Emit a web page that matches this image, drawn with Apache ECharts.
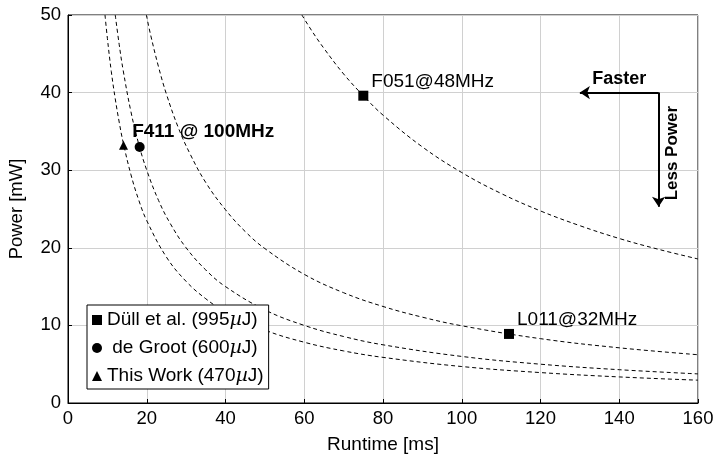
<!DOCTYPE html>
<html>
<head>
<meta charset="utf-8">
<script src="https://cdn.jsdelivr.net/npm/echarts@6/dist/echarts.min.js"></script>
<style>
  html, body { margin: 0; padding: 0; background: #fff; }
  #chart { width: 717px; height: 455px; }
</style>
</head>
<body>
<div id="chart"></div>
<script>
// iso-energy curves [runtime ms, power mW]
const curve470 = [[9.4,50],[10,47],[11,42.7],[12,39.2],[13,36.2],[14,33.6],[16,29.4],[18,26.1],[20,23.5],[25,18.8],[30,15.67],[35,13.43],[40,11.75],[50,9.4],[60,7.83],[70,6.71],[80,5.88],[100,4.7],[120,3.92],[140,3.36],[160,2.94]];
const curve600 = [[12,50],[13,46.2],[14,42.9],[16,37.5],[18,33.3],[20,30],[23,26.1],[26,23.1],[30,20],[35,17.14],[40,15],[50,12],[60,10],[70,8.57],[80,7.5],[100,6],[120,5],[140,4.29],[160,3.75]];
const curve995 = [[19.9,50],[21,47.4],[23,43.3],[25,39.8],[28,35.5],[31,32.1],[35,28.4],[40,24.9],[45,22.1],[50,19.9],[60,16.58],[70,14.21],[80,12.44],[90,11.06],[100,9.95],[120,8.29],[140,7.11],[160,6.22]];
const curve2970 = [[59.4,50],[62,47.9],[65,45.7],[70,42.4],[75,39.6],[80,37.1],[90,33],[100,29.7],[110,27],[120,24.75],[130,22.85],[140,21.2],[150,19.8],[160,18.56]];

// measured designs
const dullPoints = [[75,39.6],[112,8.9]];
const dullLabels = ['F051@48MHz','L011@32MHz'];
const grootPoints = [[18.2,33.0]];
const grootLabel = 'F411 @ 100MHz';
const thisWorkPoints = [[14.1,33.2]];

const legendNames = ['Düll et al. (995µJ)', ' de Groot (600µJ)', 'This Work (470µJ)'];

const xTicks = { min: 0, max: 160, interval: 20 };
const yTicks = { min: 0, max: 50, interval: 10 };

// arrow annotation
const fasterArrow = [[150,40],[130,40]];
const lessPowerArrow = [[150,40],[150,25.3]];
const lessPowerText = [153.4,32.2];

const FONT = '"Liberation Sans", Arial, Helvetica, sans-serif';
const chart = echarts.init(document.getElementById('chart'));

function curveSeries(data) {
  return {
    type: 'line', data: data, smooth: 0.4,
    showSymbol: false, silent: true, clip: true,
    lineStyle: { color: '#000', width: 1, type: [4, 3] }, z: 2
  };
}

chart.setOption({
  animation: false,
  textStyle: { fontFamily: FONT },
  grid: { left: 68, right: 19, top: 15, bottom: 52, outerBoundsMode: 'none', containLabel: false,
    show: true, borderColor: '#000', borderWidth: 1 },
  legend: {
    orient: 'vertical', left: 87, top: 305,
    data: [
      { name: legendNames[0], icon: 'rect' },
      { name: legendNames[1], icon: 'circle' },
      { name: legendNames[2], icon: 'triangle' }
    ],
    itemWidth: 10, itemHeight: 10, itemGap: 8,
    padding: [5, 5, 3, 5],
    borderColor: '#000', borderWidth: 1, backgroundColor: '#fff',
    textStyle: { fontSize: 19, color: '#000', fontFamily: FONT, lineHeight: 20,
      rich: { i: { fontStyle: 'italic', fontSize: 19, lineHeight: 20, fontFamily: '"DejaVu Serif", serif', color: '#000' } } },
    formatter: function (name) { return name.replace('µ', '{i|µ}'); }
  },
  xAxis: {
    type: 'value', min: xTicks.min, max: xTicks.max, interval: xTicks.interval,
    name: 'Runtime [ms]', nameLocation: 'middle', nameGap: 32,
    nameTextStyle: { fontSize: 19, color: '#000' },
    axisLine: { lineStyle: { color: '#000' } },
    axisTick: { inside: true, length: 4, lineStyle: { color: '#000' } },
    axisLabel: { fontSize: 18.5, color: '#000', margin: 6 },
    splitLine: { show: true, lineStyle: { color: '#d0d0d0' } }
  },
  yAxis: {
    type: 'value', min: yTicks.min, max: yTicks.max, interval: yTicks.interval,
    name: 'Power [mW]', nameLocation: 'middle', nameGap: 42,
    nameTextStyle: { fontSize: 18.5, color: '#000' },
    axisLine: { show: true, lineStyle: { color: '#000' } },
    axisTick: { show: true, inside: true, length: 4, lineStyle: { color: '#000' } },
    axisLabel: { fontSize: 18.5, color: '#000', margin: 7 },
    splitLine: { show: true, lineStyle: { color: '#d0d0d0' } }
  },
  series: [
    curveSeries(curve470),
    curveSeries(curve600),
    curveSeries(curve995),
    curveSeries(curve2970),
    {
      name: legendNames[0], type: 'scatter', symbol: 'rect', symbolSize: 10,
      itemStyle: { color: '#000', opacity: 1 }, z: 5,
      data: dullPoints.map((p, i) => ({ value: p, label: { formatter: dullLabels[i] } })),
      label: { show: true, position: 'right', distance: 3, offset: [0, -14], fontSize: 19, color: '#000' }
    },
    {
      name: legendNames[1], type: 'scatter', symbol: 'circle', symbolSize: 10,
      itemStyle: { color: '#000', opacity: 1 }, z: 5,
      data: grootPoints,
      label: { show: true, position: 'top', align: 'left', offset: [-7.5, 4],
        formatter: grootLabel, fontSize: 19, fontWeight: 'bold', color: '#000' }
    },
    {
      name: legendNames[2], type: 'scatter', symbol: 'triangle', symbolSize: 9,
      itemStyle: { color: '#000', opacity: 1 }, z: 5,
      data: thisWorkPoints
    },
    {
      type: 'scatter', silent: true, symbolSize: 0, z: 6,
      itemStyle: { opacity: 1 },
      data: [lessPowerText],
      label: { show: true, position: 'inside', rotate: 90, formatter: 'Less Power',
        fontSize: 17, fontWeight: 'bold', color: '#000' }
    },
    {
      type: 'line', data: [], silent: true,
      markLine: {
        silent: true, animation: false,
        symbol: ['none', 'arrow'], symbolSize: 10,
        lineStyle: { color: '#000', width: 2, type: 'solid' },
        label: { show: true, position: 'middle', color: '#000', fontSize: 18, fontWeight: 'bold', fontFamily: FONT },
        data: [
          [{ coord: fasterArrow[0], label: { formatter: 'Faster' } }, { coord: fasterArrow[1] }],
          [{ coord: lessPowerArrow[0], label: { show: false } }, { coord: lessPowerArrow[1] }]
        ]
      }
    }
  ]
});
</script>
</body>
</html>
